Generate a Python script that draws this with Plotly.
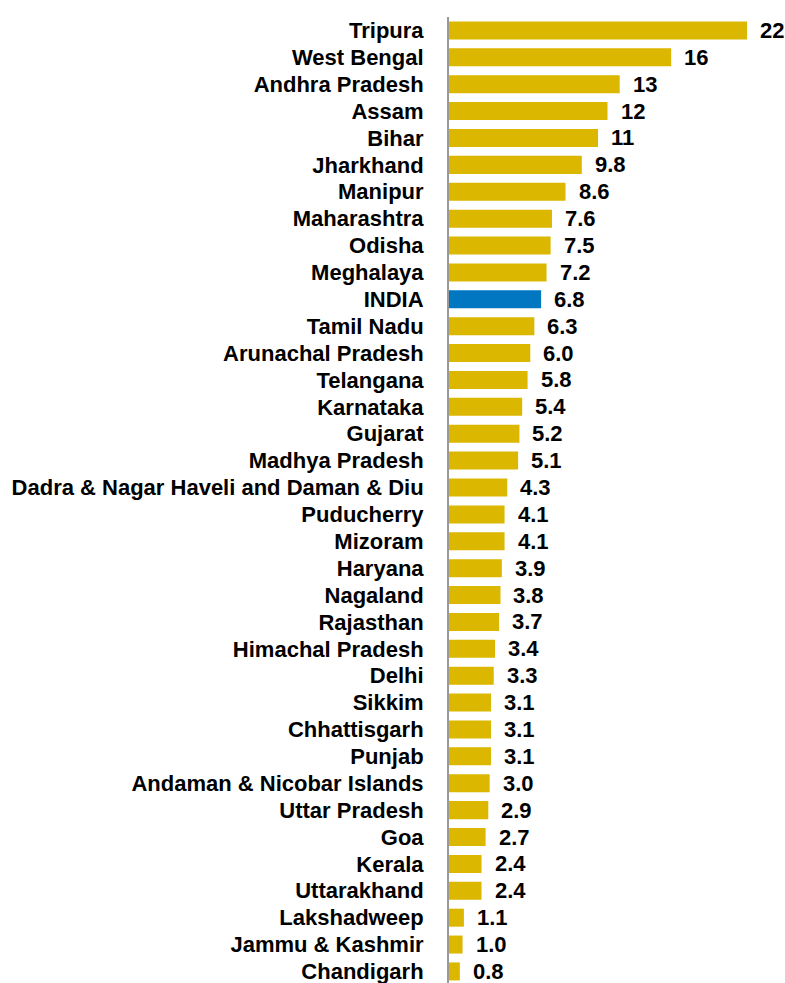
import plotly.graph_objects as go

states = ["Tripura", "West Bengal", "Andhra Pradesh", "Assam", "Bihar", "Jharkhand",
          "Manipur", "Maharashtra", "Odisha", "Meghalaya", "INDIA", "Tamil Nadu",
          "Arunachal Pradesh", "Telangana", "Karnataka", "Gujarat", "Madhya Pradesh",
          "Dadra & Nagar Haveli and Daman & Diu", "Puducherry", "Mizoram", "Haryana",
          "Nagaland", "Rajasthan", "Himachal Pradesh", "Delhi", "Sikkim", "Chhattisgarh",
          "Punjab", "Andaman & Nicobar Islands", "Uttar Pradesh", "Goa", "Kerala",
          "Uttarakhand", "Lakshadweep", "Jammu & Kashmir", "Chandigarh"]
values = [22.0, 16.4, 12.6, 11.7, 11.0, 9.8, 8.6, 7.6, 7.5, 7.2, 6.8, 6.3, 6.0, 5.8,
          5.4, 5.2, 5.1, 4.3, 4.1, 4.1, 3.9, 3.8, 3.7, 3.4, 3.3, 3.1, 3.1, 3.1, 3.0,
          2.9, 2.7, 2.4, 2.4, 1.1, 1.0, 0.8]
labels = ["22", "16", "13", "12", "11", "9.8", "8.6", "7.6", "7.5", "7.2", "6.8", "6.3",
          "6.0", "5.8", "5.4", "5.2", "5.1", "4.3", "4.1", "4.1", "3.9", "3.8", "3.7",
          "3.4", "3.3", "3.1", "3.1", "3.1", "3.0", "2.9", "2.7", "2.4", "2.4", "1.1",
          "1.0", "0.8"]

yellow = "#DBB700"
blue = "#0077C0"
colors = [blue if s == "INDIA" else yellow for s in states]

bars = go.Bar(x=values, y=states, orientation="h", marker=dict(color=colors, line_width=0),
              width=0.67, hoverinfo="x+y")

fig = go.Figure(data=[bars])

for s, v, t in zip(states, values, labels):
    fig.add_annotation(x=v, y=s, text="<b>" + t + "</b>", showarrow=False,
                       xanchor="left", yanchor="middle", xshift=11,
                       font=dict(family="Liberation Sans, Arial", size=22, color="#000000"))

n = len(states)
fig.update_layout(
    width=785, height=983,
    margin=dict(l=449, r=0, t=17, b=0),
    plot_bgcolor="white", paper_bgcolor="white",
    showlegend=False,
    font=dict(family="Liberation Sans, Arial", size=22, color="#000000"),
    xaxis=dict(range=[0, 24.8], showgrid=False, zeroline=False, showline=False,
               showticklabels=False, ticks=""),
    yaxis=dict(range=[n - 0.57, -0.5], showgrid=False, zeroline=False, showline=True,
               linecolor="#999999", linewidth=2, ticks="",
               tickmode="array", tickvals=states,
               ticktext=["<b>" + s + "</b>" for s in states],
               ticklabelstandoff=19),
)

# drop the default 8px body margin so the figure fills the window without scrollbars
fig.write_html("out.html", config={"displayModeBar": False},
               post_script="document.body.style.margin='0';")
